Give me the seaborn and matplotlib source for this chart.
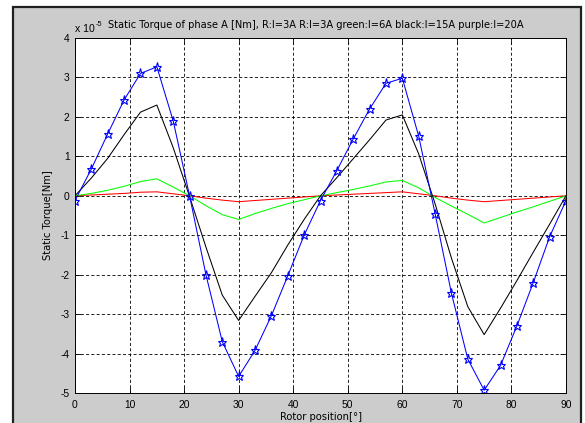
import numpy as np
import pandas as pd
import matplotlib
matplotlib.use("Agg")
import matplotlib.pyplot as plt
from matplotlib.patches import Rectangle
import seaborn as sns

# rotor position in degrees, torque values in units of 1e-5 Nm
rotor_pos = list(range(0, 91, 3))

torque_red = [0, 0.02, 0.04, 0.06, 0.09, 0.10, 0.05, 0.0, -0.06, -0.11, -0.15,
              -0.12, -0.09, -0.06, -0.03, 0.0, 0.02, 0.04, 0.06, 0.08, 0.10,
              0.05, 0.0, -0.06, -0.11, -0.15, -0.12, -0.09, -0.06, -0.03, 0.0]
torque_green = [0, 0.06, 0.14, 0.24, 0.36, 0.43, 0.22, 0.0, -0.25, -0.48, -0.60,
                -0.45, -0.32, -0.20, -0.10, 0.0, 0.08, 0.16, 0.25, 0.35, 0.39,
                0.20, -0.04, -0.26, -0.47, -0.69, -0.55, -0.41, -0.28, -0.14, 0.0]
torque_black = [0, 0.45, 0.95, 1.55, 2.12, 2.30, 1.22, -0.02, -1.30, -2.52, -3.16,
                -2.55, -1.95, -1.25, -0.60, 0.0, 0.46, 0.94, 1.42, 1.92, 2.05,
                1.06, -0.20, -1.58, -2.81, -3.52, -2.85, -2.15, -1.43, -0.72, 0.0]
torque_blue = [-0.12, 0.68, 1.57, 2.43, 3.10, 3.27, 1.90, 0.0, -2.00, -3.70, -4.58,
               -3.92, -3.04, -2.03, -1.00, -0.12, 0.64, 1.44, 2.20, 2.85, 2.98,
               1.51, -0.45, -2.47, -4.14, -4.93, -4.30, -3.30, -2.20, -1.04, -0.12]

x_ticks = list(range(0, 91, 10))
y_ticks = list(range(-5, 5))

df = pd.DataFrame({"pos": rotor_pos, "red": torque_red, "green": torque_green,
                   "black": torque_black, "blue": torque_blue})

plt.rcParams["font.family"] = ["Liberation Sans", "DejaVu Sans"]
plt.rcParams["font.size"] = 7.4
plt.rcParams["axes.unicode_minus"] = False
plt.rcParams["lines.scale_dashes"] = False

W, H = 585, 423
fig = plt.figure(figsize=(W / 100, H / 100), dpi=100, facecolor="white")

# grey figure panel with dark frame (MATLAB look)
fig.patches.append(Rectangle((12.5 / W, -0.05), (580.5 - 12.5) / W, 1.05 - 7.5 / H,
                             transform=fig.transFigure, facecolor="#cccccc",
                             edgecolor="#202020", linewidth=1.6, zorder=-5))

ax = fig.add_axes([75 / W, 1 - 393 / H, (566 - 75) / W, (393 - 38) / H])
ax.set_zorder(2)
ax.set_facecolor("white")

lw = 0.75
sns.lineplot(data=df, x="pos", y="red", ax=ax, color="#ff0000", linewidth=lw)
sns.lineplot(data=df, x="pos", y="green", ax=ax, color="#00ff00", linewidth=lw)
sns.lineplot(data=df, x="pos", y="black", ax=ax, color="black", linewidth=lw)
sns.lineplot(data=df, x="pos", y="blue", ax=ax, color="#0000ff", linewidth=lw,
             marker="*", markersize=6.5, markerfacecolor="none",
             markeredgecolor="#0000ff", markeredgewidth=0.8)

ax.set_xlim(0, 90)
ax.set_ylim(-5, 4)
ax.set_xticks(x_ticks)
ax.set_yticks(y_ticks)
ax.tick_params(direction="in", length=4, width=0.6, top=True, right=True,
               labelsize=7.4, pad=4)
ax.tick_params(axis="x", pad=5)
ax.grid(True, color="black", linestyle=(0, (2.2, 1.6)), linewidth=0.6)
for s in ax.spines.values():
    s.set_linewidth(0.7)

label_font = {"family": "DejaVu Sans", "size": 7.2}
ax.set_xlabel("Rotor position[°]", fontdict=label_font)
ax.set_ylabel("Static Torque[Nm]", fontdict=label_font)
ax.xaxis.set_label_coords(0.5, -(412 - 393) / 355)
ax.yaxis.set_label_coords(-(75 - 53) / 491, 0.5)

fig.text(75 / W, 1 - 32 / H, "x 10", fontsize=7.6, ha="left", va="baseline")
fig.text(96 / W, 1 - 25.5 / H, "-5", fontsize=5.3, ha="left", va="baseline")
fig.text(108 / W, 1 - 28.5 / H,
         "Static Torque of phase A [Nm], R:I=3A R:I=3A green:I=6A black:I=15A purple:I=20A",
         family="DejaVu Sans", fontsize=7.12, ha="left", va="baseline")

fig.savefig("out.png", dpi=100, facecolor="white")
